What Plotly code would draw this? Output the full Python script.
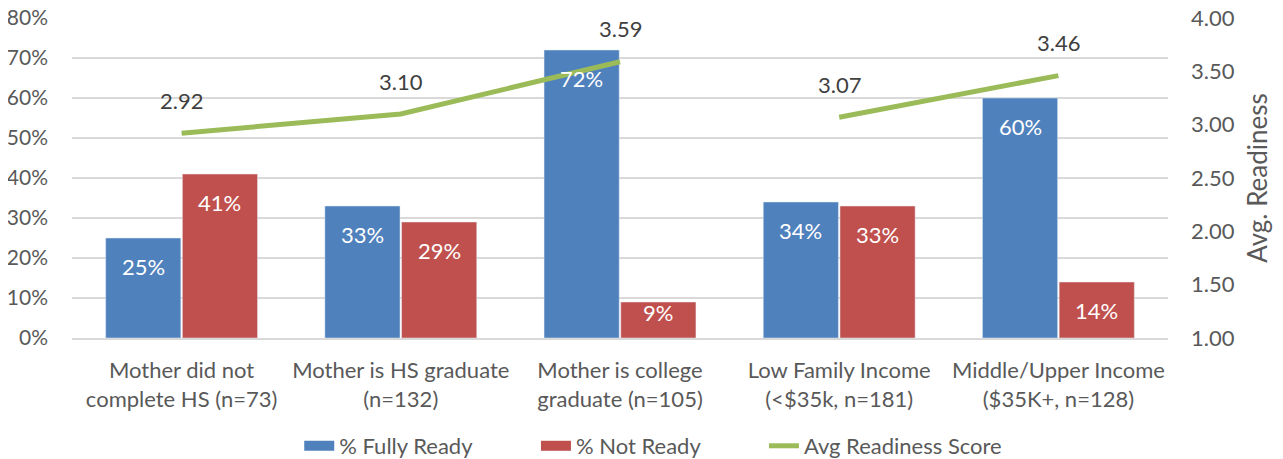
import plotly.graph_objects as go

categories = [
    "Mother did not<br>complete HS (n=73)",
    "Mother is HS graduate<br>(n=132)",
    "Mother is college<br>graduate (n=105)",
    "Low Family Income<br>(<$35k, n=181)",
    "Middle/Upper Income<br>($35K+, n=128)",
]
fully_ready = [0.25, 0.33, 0.72, 0.34, 0.60]
not_ready = [0.41, 0.29, 0.09, 0.33, 0.14]
avg_score = [2.92, 3.10, 3.59, 3.07, 3.46]
# line segments (the line is broken between education and income groups)
segments = [(0, 3), (3, 5)]

FONT = "Lato"
TICK = "#595959"
BLUE = "#4F81BD"
RED = "#C0504D"
GREEN = "#9BBB59"
NUM = 22
TXT = 22
BARGAP = 0.30
W, H = 1283, 459
M = dict(l=64, r=123, t=10, b=129)
PX_PER_UNIT = (H - M["t"] - M["b"]) / 0.8  # pixels per 100% on left axis
LEGEND_X = [0.227, 0.4115, 0.5892]  # left edge of each legend entry (container fraction)

fig = go.Figure()
fig.add_trace(go.Bar(x=list(range(len(categories))), y=fully_ready, name="% Fully Ready",
                     marker_color=BLUE, showlegend=False))
fig.add_trace(go.Bar(x=list(range(len(categories))), y=not_ready, name="% Not Ready",
                     marker_color=RED, showlegend=False))
for i, (a, b) in enumerate(segments):
    fig.add_trace(go.Scatter(
        x=list(range(a, b)), y=avg_score[a:b], name="Avg Readiness Score",
        mode="lines", line=dict(color=GREEN, width=5), yaxis="y2",
        legendgroup="avg", showlegend=False,
    ))
# legend entries (wide swatches like the original), one legend per entry
legend_ids = ["legend", "legend2", "legend3"]
for lid, name, col, w in zip(legend_ids,
                             ["% Fully Ready", "% Not Ready", "Avg Readiness Score"],
                             [BLUE, RED, GREEN], [14, 14, 5]):
    fig.add_trace(go.Scatter(x=[None], y=[None], mode="lines", name=name,
                             line=dict(color=col, width=w), legend=lid))

off = (1 - BARGAP) / 4
for i in range(len(categories)):
    fig.add_annotation(x=i, y=avg_score[i], yref="y2", text=f"{avg_score[i]:.2f}",
                       showarrow=False, yshift=33,
                       font=dict(size=NUM, color="#404040", family=FONT))
    for vals, sgn in [(fully_ready, -1), (not_ready, 1)]:
        shift = min(28, vals[i] * PX_PER_UNIT - 26)
        fig.add_annotation(x=i + sgn * off, y=vals[i], text=f"{vals[i]*100:.0f}%",
                           showarrow=False, yshift=-shift,
                           font=dict(size=NUM, color="white", family=FONT))

legend_style = dict(orientation="h", xref="container", yref="container", y=0.0458,
                    xanchor="left", yanchor="middle", font=dict(size=TXT, color=TICK),
                    bgcolor="rgba(0,0,0,0)")
legends = {lid: dict(legend_style, x=x) for lid, x in zip(legend_ids, LEGEND_X)}

fig.update_layout(
    width=W, height=H,
    margin=dict(**M, autoexpand=False),
    paper_bgcolor="white", plot_bgcolor="white",
    font=dict(family=FONT, size=TXT, color=TICK),
    barmode="group", bargap=BARGAP, bargroupgap=0.02,
    xaxis=dict(tickmode="array", tickvals=list(range(len(categories))), ticktext=categories,
               range=[-0.5, len(categories) - 0.5], automargin=False,
               showgrid=False, showline=True, linecolor="#D9D9D9", linewidth=1.5,
               tickfont=dict(size=TXT, color=TICK), ticks="", ticklabelstandoff=12),
    yaxis=dict(range=[0, 0.8], dtick=0.1, tickformat=".0%", showgrid=True,
               gridcolor="#D9D9D9", gridwidth=1.5, zeroline=False, automargin=False,
               tickfont=dict(size=21, color=TICK), ticklabelstandoff=23,
               ticklabeloverflow="allow"),
    yaxis2=dict(range=[1, 4], dtick=0.5, tickformat=".2f", overlaying="y", side="right",
                showgrid=False, zeroline=False, automargin=False,
                tickfont=dict(size=NUM, color=TICK), ticklabelstandoff=22,
                ticklabeloverflow="allow",
                title=dict(text="Avg. Readiness", font=dict(size=26, color=TICK), standoff=15)),
    showlegend=True,
    **legends,
)
fig.write_html("out.html")
